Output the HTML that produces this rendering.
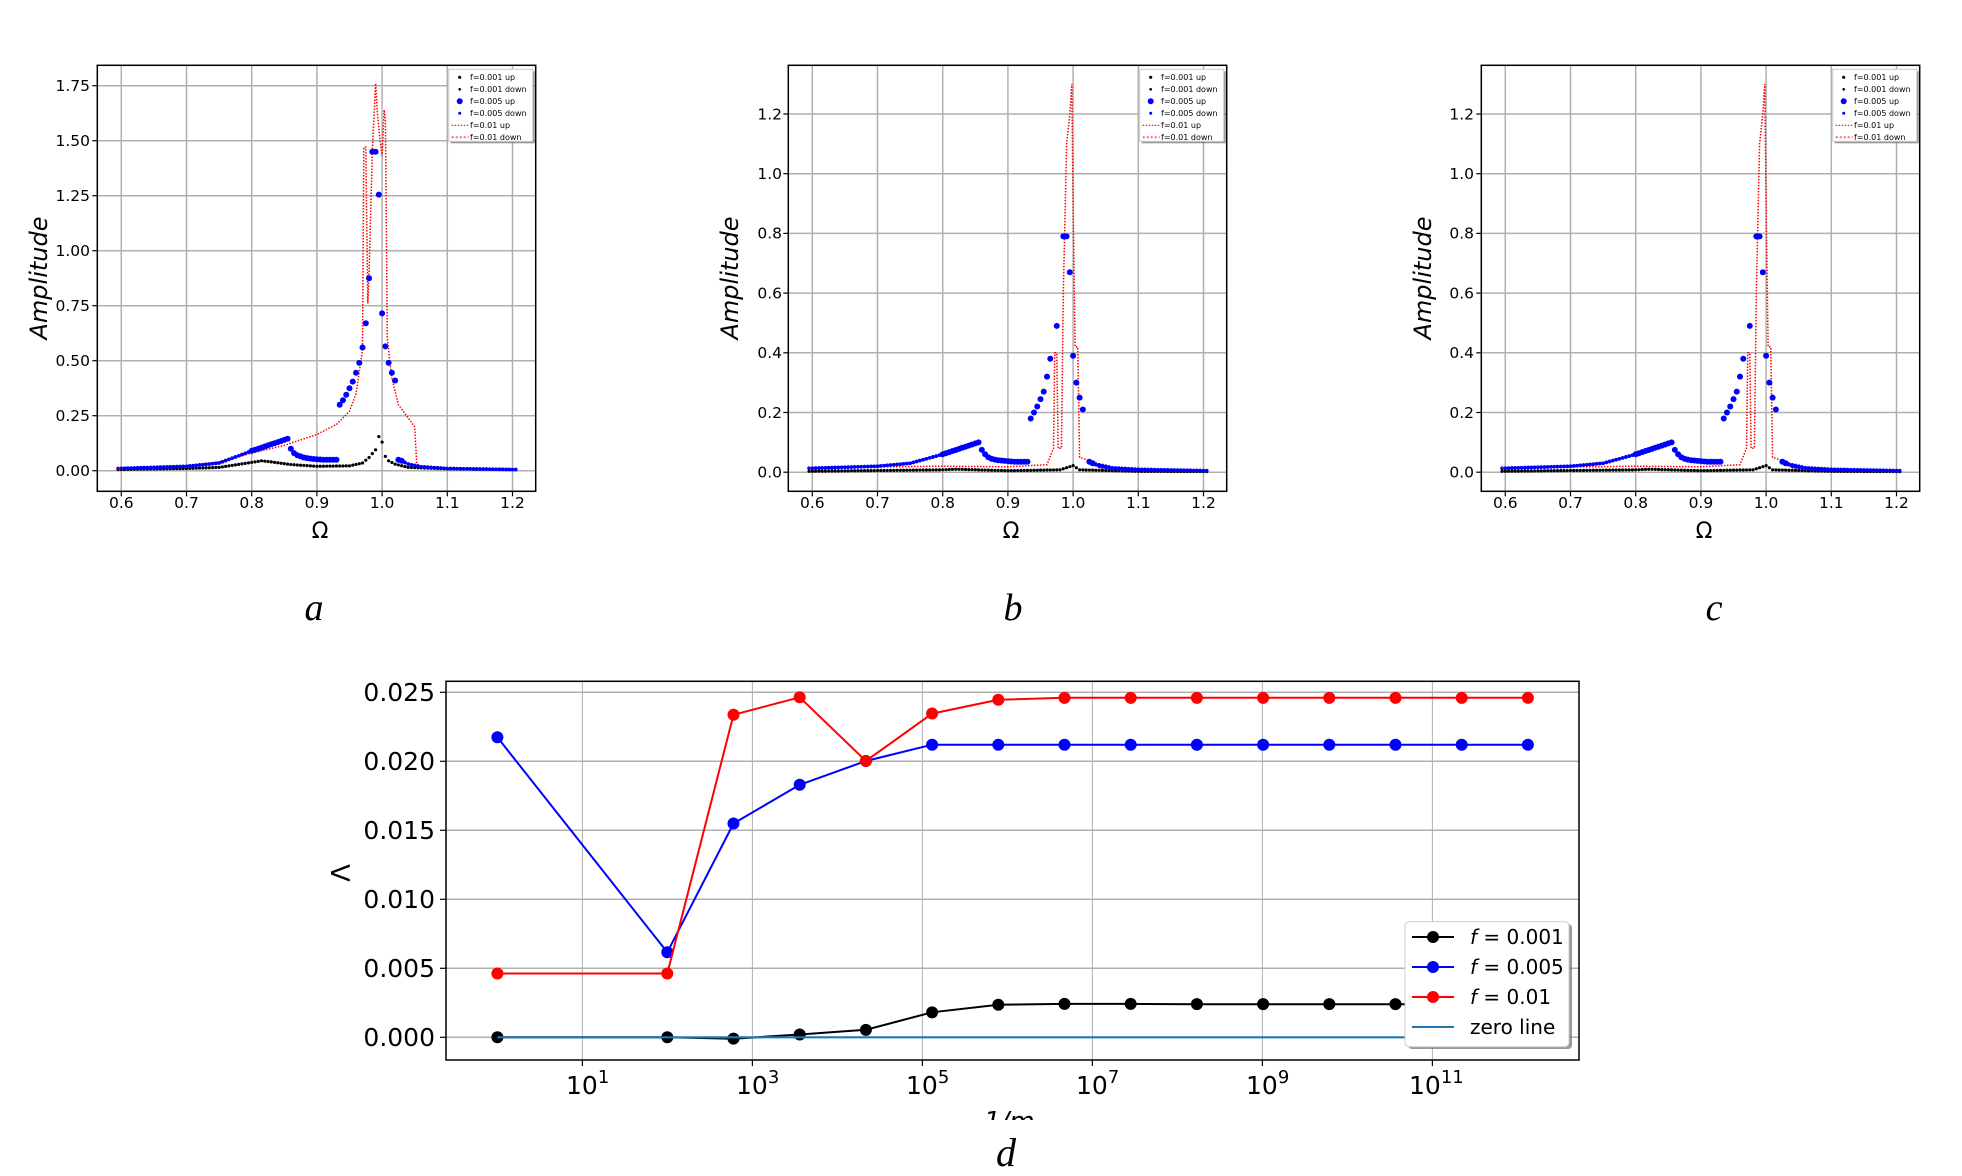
<!DOCTYPE html>
<html><head><meta charset="utf-8"><style>
html,body{margin:0;padding:0;background:#fff;}
svg{display:block;}
text{font-family:"DejaVu Sans","Liberation Sans",sans-serif;fill:#000;}
text.ser{font-family:"Liberation Serif","DejaVu Serif",serif;font-style:italic;}
</style></head><body>
<svg id="s" width="1962" height="1176" xmlns="http://www.w3.org/2000/svg">
<defs><clipPath id="cl"><rect x="900" y="1080" width="250" height="40"/></clipPath></defs>
<rect width="1962" height="1176" fill="#fff"/>
<g id="pa"></g><g id="pb"></g><g id="pc"></g><g id="pd"></g>

<g font-size="15.5" text-anchor="end">
<text x="90" y="476">0.00</text><text x="90" y="421">0.25</text><text x="90" y="366">0.50</text><text x="90" y="311">0.75</text><text x="90" y="256">1.00</text><text x="90" y="201">1.25</text><text x="90" y="146">1.50</text><text x="90" y="91">1.75</text>
</g>
<g font-size="15.5" text-anchor="middle">
<text x="121.3" y="508">0.6</text><text x="186.5" y="508">0.7</text><text x="251.7" y="508">0.8</text><text x="316.9" y="508">0.9</text><text x="382.1" y="508">1.0</text><text x="447.3" y="508">1.1</text><text x="512.5" y="508">1.2</text>
</g>
<text x="47" y="278" font-size="24" font-style="italic" text-anchor="middle" transform="rotate(-90 47 278)">Amplitude</text>
<text x="320" y="538" font-size="22" text-anchor="middle">Ω</text>
<text class="ser" x="314" y="620" font-size="38" text-anchor="middle">a</text>

<g font-size="15.5" text-anchor="end">
<text x="782" y="477.5">0.0</text><text x="782" y="417.8">0.2</text><text x="782" y="358.1">0.4</text><text x="782" y="298.4">0.6</text><text x="782" y="238.7">0.8</text><text x="782" y="179">1.0</text><text x="782" y="119.3">1.2</text>
</g>
<g font-size="15.5" text-anchor="middle">
<text x="812.3" y="508">0.6</text><text x="877.5" y="508">0.7</text><text x="942.7" y="508">0.8</text><text x="1007.9" y="508">0.9</text><text x="1073.1" y="508">1.0</text><text x="1138.3" y="508">1.1</text><text x="1203.5" y="508">1.2</text>
</g>
<text x="738" y="278" font-size="24" font-style="italic" text-anchor="middle" transform="rotate(-90 738 278)">Amplitude</text>
<text x="1011" y="538" font-size="22" text-anchor="middle">Ω</text>
<text class="ser" x="1013" y="620" font-size="38" text-anchor="middle">b</text>

<g font-size="15.5" text-anchor="end">
<text x="1474" y="477.5">0.0</text><text x="1474" y="417.8">0.2</text><text x="1474" y="358.1">0.4</text><text x="1474" y="298.4">0.6</text><text x="1474" y="238.7">0.8</text><text x="1474" y="179">1.0</text><text x="1474" y="119.3">1.2</text>
</g>
<g font-size="15.5" text-anchor="middle">
<text x="1505.3" y="508">0.6</text><text x="1570.5" y="508">0.7</text><text x="1635.7" y="508">0.8</text><text x="1700.9" y="508">0.9</text><text x="1766.1" y="508">1.0</text><text x="1831.3" y="508">1.1</text><text x="1896.5" y="508">1.2</text>
</g>
<text x="1431" y="278" font-size="24" font-style="italic" text-anchor="middle" transform="rotate(-90 1431 278)">Amplitude</text>
<text x="1704" y="538" font-size="22" text-anchor="middle">Ω</text>
<text class="ser" x="1714" y="620" font-size="38" text-anchor="middle">c</text>

<g font-size="25" text-anchor="end">
<text x="435" y="1046">0.000</text><text x="435" y="977">0.005</text><text x="435" y="908">0.010</text><text x="435" y="839">0.015</text><text x="435" y="770">0.020</text><text x="435" y="701">0.025</text>
</g>
<g font-size="25">
<text x="566" y="1094">10<tspan dy="-11" font-size="18">1</tspan></text>
<text x="736" y="1094">10<tspan dy="-11" font-size="18">3</tspan></text>
<text x="906" y="1094">10<tspan dy="-11" font-size="18">5</tspan></text>
<text x="1076" y="1094">10<tspan dy="-11" font-size="18">7</tspan></text>
<text x="1246" y="1094">10<tspan dy="-11" font-size="18">9</tspan></text>
<text x="1409" y="1094">10<tspan dy="-11" font-size="18">11</tspan></text>
</g>
<text x="350" y="873" font-size="26" text-anchor="middle" transform="rotate(-90 350 873)">Λ</text>
<g clip-path="url(#cl)"><text x="1013" y="1130" font-size="26" font-style="italic" text-anchor="middle">1/m<tspan font-size="18">r</tspan></text></g>
<text class="ser" x="1006" y="1166" font-size="40" text-anchor="middle">d</text>

<g>
<rect x="1408" y="924" width="164" height="125" rx="4" fill="#555" opacity="0.6"/>
<rect x="1405" y="921.7" width="164" height="125" rx="4" fill="#fff" stroke="#ccc" stroke-width="1"/>
<line x1="1412" y1="937" x2="1454" y2="937" stroke="#000" stroke-width="2"/><circle cx="1433" cy="937" r="6" fill="#000"/>
<line x1="1412" y1="967" x2="1454" y2="967" stroke="#00f" stroke-width="2"/><circle cx="1433" cy="967" r="6" fill="#00f"/>
<line x1="1412" y1="997" x2="1454" y2="997" stroke="#f00" stroke-width="2"/><circle cx="1433" cy="997" r="6" fill="#f00"/>
<line x1="1412" y1="1027" x2="1454" y2="1027" stroke="#1f77b4" stroke-width="2"/>
<g font-size="20">
<text x="1470" y="944"><tspan font-style="italic">f</tspan> = 0.001</text>
<text x="1470" y="974"><tspan font-style="italic">f</tspan> = 0.005</text>
<text x="1470" y="1004"><tspan font-style="italic">f</tspan> = 0.01</text>
<text x="1470" y="1034">zero line</text>
</g>
</g>

<g font-size="8" fill="#000">
<g><text x="470" y="80">f=0.001 up</text><text x="470" y="92">f=0.001 down</text><text x="470" y="104">f=0.005 up</text><text x="470" y="116">f=0.005 down</text><text x="470" y="128">f=0.01 up</text><text x="470" y="140">f=0.01 down</text></g>
<g transform="translate(691,0)"><text x="470" y="80">f=0.001 up</text><text x="470" y="92">f=0.001 down</text><text x="470" y="104">f=0.005 up</text><text x="470" y="116">f=0.005 down</text><text x="470" y="128">f=0.01 up</text><text x="470" y="140">f=0.01 down</text></g>
<g transform="translate(1384,0)"><text x="470" y="80">f=0.001 up</text><text x="470" y="92">f=0.001 down</text><text x="470" y="104">f=0.005 up</text><text x="470" y="116">f=0.005 down</text><text x="470" y="128">f=0.01 up</text><text x="470" y="140">f=0.01 down</text></g>
</g>
</svg>
<script>
var NS="http://www.w3.org/2000/svg";
function el(p,t,a){var e=document.createElementNS(NS,t);for(var k in a)e.setAttribute(k,a[k]);p.appendChild(e);return e;}
function interp(keys,x){for(var i=0;i<keys.length-1;i++){if(x<=keys[i+1][0]){var a=keys[i],b=keys[i+1];return a[1]+(b[1]-a[1])*(x-a[0])/(b[0]-a[0]);}}return keys[keys.length-1][1];}
function panel(gid,dx,y0,ys,yticks,D){
 var g=document.getElementById(gid);
 var L=97.3+dx,R=535.7+dx,T=65.3,B=491.3;
 function X(o){return 121.3+dx+(o-0.6)*652;}
 function Y(v){return y0-v*ys;}
 for(var i=0;i<7;i++){var x=X(0.6+0.1*i);el(g,"line",{x1:x,x2:x,y1:T,y2:B,stroke:"#b0b0b0","stroke-width":1.5});el(g,"line",{x1:x,x2:x,y1:B,y2:B+5,stroke:"#000","stroke-width":1.2});}
 yticks.forEach(function(v){var y=Y(v);el(g,"line",{x1:L,x2:R,y1:y,y2:y,stroke:"#b0b0b0","stroke-width":1.5});el(g,"line",{x1:L-5,x2:L,y1:y,y2:y,stroke:"#000","stroke-width":1.2});});
 for(var o=0.595;o<=1.206;o+=0.005){var v=interp(D.black,o);el(g,"circle",{cx:X(o),cy:Y(v),r:1.6,fill:"#000"});}
 for(var o=0.595;o<=1.206;o+=0.005){if(o>0.8&&o<1.03)continue;var v=interp(D.blue,o);el(g,"circle",{cx:X(o),cy:Y(v),r:1.8,fill:"#00f"});}
 var pts=D.red.map(function(p){return X(p[0]).toFixed(1)+","+Y(p[1]).toFixed(1);}).join(" ");
 el(g,"polyline",{points:pts,fill:"none",stroke:"#f00","stroke-width":1.5,"stroke-dasharray":"1.5,1.5"});
 D.blueUp.forEach(function(p){el(g,"circle",{cx:X(p[0]),cy:Y(p[1]),r:(p[0]<0.8||p[0]>1.03)?1.8:3,fill:"#00f"});});
 el(g,"rect",{x:L,y:T,width:R-L,height:B-T,fill:"none",stroke:"#000","stroke-width":1.5});
 var lx=R-87,ly=T+4;
 el(g,"rect",{x:lx+2,y:ly+2,width:84,height:72,fill:"#555",opacity:0.6});
 el(g,"rect",{x:lx,y:ly,width:84,height:72,fill:"#fff",stroke:"#ccc","stroke-width":1});
 el(g,"circle",{cx:lx+11,cy:ly+8,r:1.6,fill:"#000"});
 el(g,"circle",{cx:lx+11,cy:ly+20,r:1.3,fill:"#000"});
 el(g,"circle",{cx:lx+11,cy:ly+32,r:3,fill:"#00f"});
 el(g,"circle",{cx:lx+11,cy:ly+44,r:1.5,fill:"#00f"});
 el(g,"line",{x1:lx+3,x2:lx+20,y1:ly+56,y2:ly+56,stroke:"#f00","stroke-width":1.2,"stroke-dasharray":"1.5,1.5"});
 el(g,"line",{x1:lx+3,x2:lx+20,y1:ly+68,y2:ly+68,stroke:"#f66","stroke-width":2,"stroke-dasharray":"2,2"});
}
function blueUpList(pre,mid,post){var r=[];for(var o=0.6;o<0.8551;o+=0.005)r.push([o,interp(pre,o)]);return r.concat(mid).concat((function(){var q=[];for(var o=1.025;o<=1.206;o+=0.005)q.push([o,interp(post,o)]);return q;})());}
var A={
 black:[[0.59,0.005],[0.7,0.01],[0.75,0.015],[0.8,0.038],[0.815,0.045],[0.83,0.04],[0.86,0.028],[0.9,0.02],[0.95,0.022],[0.97,0.035],[0.98,0.06],[0.99,0.095],[0.995,0.155],[1.0,0.13],[1.005,0.065],[1.01,0.045],[1.02,0.03],[1.04,0.015],[1.1,0.008],[1.21,0.004]],
 blue:[[0.59,0.01],[0.7,0.02],[0.75,0.035],[0.8,0.09],[1.03,0.045],[1.04,0.03],[1.06,0.018],[1.1,0.01],[1.21,0.005]],
 red:[[0.595,0.01],[0.7,0.02],[0.75,0.04],[0.8,0.08],[0.85,0.115],[0.9,0.165],[0.93,0.21],[0.95,0.27],[0.96,0.35],[0.97,0.55],[0.972,1.47],[0.975,1.47],[0.978,0.76],[0.98,0.9],[0.985,1.45],[0.99,1.76],[0.993,1.62],[0.997,1.5],[1.0,1.43],[1.003,1.64],[1.005,1.6],[1.008,0.6],[1.015,0.42],[1.025,0.3],[1.04,0.24],[1.05,0.2],[1.053,0.03],[1.06,0.02],[1.1,0.01],[1.205,0.005]]
};
A.blueUp=blueUpList([[0.6,0.01],[0.7,0.02],[0.75,0.035],[0.8,0.09],[0.855,0.145]],
 [[0.86,0.1],[0.865,0.08],[0.87,0.07],[0.875,0.065],[0.88,0.06],[0.885,0.057],[0.89,0.055],[0.895,0.053],[0.9,0.052],[0.905,0.051],[0.91,0.05],[0.915,0.05],[0.92,0.05],[0.925,0.05],[0.93,0.05],
 [0.935,0.3],[0.94,0.32],[0.945,0.345],[0.95,0.375],[0.955,0.405],[0.96,0.445],[0.965,0.49],[0.97,0.56],[0.975,0.67],[0.98,0.875],[0.985,1.45],[0.99,1.45],[0.995,1.255],[1.0,0.715],[1.005,0.565],[1.01,0.49],[1.015,0.445],[1.02,0.41]],
 [[1.025,0.05],[1.03,0.045],[1.04,0.03],[1.06,0.018],[1.1,0.01],[1.21,0.005]]);
var B={
 black:[[0.59,0.003],[0.8,0.008],[0.82,0.01],[0.9,0.005],[0.98,0.008],[1.0,0.022],[1.01,0.008],[1.1,0.003],[1.21,0.002]],
 blue:[[0.59,0.013],[0.7,0.02],[0.75,0.03],[0.8,0.06],[1.03,0.03],[1.06,0.015],[1.1,0.01],[1.21,0.005]],
 red:[[0.595,0.015],[0.8,0.02],[0.9,0.018],[0.96,0.025],[0.97,0.08],[0.972,0.4],[0.975,0.4],[0.977,0.08],[0.982,0.08],[0.985,0.6],[0.99,1.1],[0.995,1.2],[0.998,1.3],[1.0,0.9],[1.003,0.42],[1.007,0.42],[1.01,0.05],[1.03,0.035],[1.04,0.015],[1.1,0.008],[1.205,0.005]]
};
B.blueUp=blueUpList([[0.6,0.013],[0.7,0.02],[0.75,0.03],[0.8,0.06],[0.855,0.1]],
 [[0.86,0.075],[0.865,0.06],[0.87,0.05],[0.875,0.045],[0.88,0.042],[0.885,0.04],[0.89,0.039],[0.895,0.038],[0.9,0.037],[0.905,0.036],[0.91,0.035],[0.915,0.035],[0.92,0.035],[0.925,0.035],[0.93,0.035],
 [0.935,0.18],[0.94,0.2],[0.945,0.22],[0.95,0.245],[0.955,0.27],[0.96,0.32],[0.965,0.38],[0.975,0.49],[0.985,0.79],[0.99,0.79],[0.995,0.67],[1.0,0.39],[1.005,0.3],[1.01,0.25],[1.015,0.21]],
 [[1.02,0.045],[1.025,0.035],[1.04,0.02],[1.06,0.012],[1.1,0.008],[1.21,0.005]]);
panel("pa",0,470.7,220,[0,0.25,0.5,0.75,1,1.25,1.5,1.75],A);
panel("pb",691,472.2,298.5,[0,0.2,0.4,0.6,0.8,1.0,1.2],B);
panel("pc",1384,472.2,298.5,[0,0.2,0.4,0.6,0.8,1.0,1.2],B);
(function(){
 var g=document.getElementById("pd");
 var L=446,R=1579,T=681.3,Bt=1060;
 function Y(v){return 1037.3-v*13800;}
 for(var i=0;i<6;i++){var x=582.4+170*i;el(g,"line",{x1:x,x2:x,y1:T,y2:Bt,stroke:"#b0b0b0","stroke-width":1});el(g,"line",{x1:x,x2:x,y1:Bt,y2:Bt+6,stroke:"#000","stroke-width":1.2});}
 for(var i=0;i<6;i++){var y=Y(0.005*i);el(g,"line",{x1:L,x2:R,y1:y,y2:y,stroke:"#b0b0b0","stroke-width":1.5});el(g,"line",{x1:L-6,x2:L,y1:y,y2:y,stroke:"#000","stroke-width":1.2});}
 var xs=[497.4,667.3];for(var k=2;k<15;k++)xs.push(733.5+66.2*(k-2));
 var red=[0.00462,0.00462,0.02337,0.02464,0.02002,0.02346,0.02446,0.0246,0.0246,0.0246,0.0246,0.0246,0.0246,0.0246,0.0246];
 var blue=[0.02174,0.00616,0.01549,0.0183,0.02002,0.0212,0.0212,0.0212,0.0212,0.0212,0.0212,0.0212,0.0212,0.0212,0.0212];
 var blk=[0,0,-0.0001,0.0002,0.00054,0.00181,0.00236,0.00242,0.00242,0.0024,0.0024,0.0024,0.0024,0.0024,0.0024];
 function series(v,c){el(g,"polyline",{points:xs.map(function(x,i){return x+","+Y(v[i]).toFixed(1);}).join(" "),fill:"none",stroke:c,"stroke-width":2});xs.forEach(function(x,i){el(g,"circle",{cx:x,cy:Y(v[i]),r:6,fill:c});});}
 series(blk,"#000");
 el(g,"line",{x1:xs[0],x2:xs[14],y1:Y(0),y2:Y(0),stroke:"#1f77b4","stroke-width":2.2});
 series(blue,"#00f");
 series(red,"#f00");
 el(g,"rect",{x:L,y:T,width:R-L,height:Bt-T,fill:"none",stroke:"#000","stroke-width":1.5});
})();
</script>
</body></html>
